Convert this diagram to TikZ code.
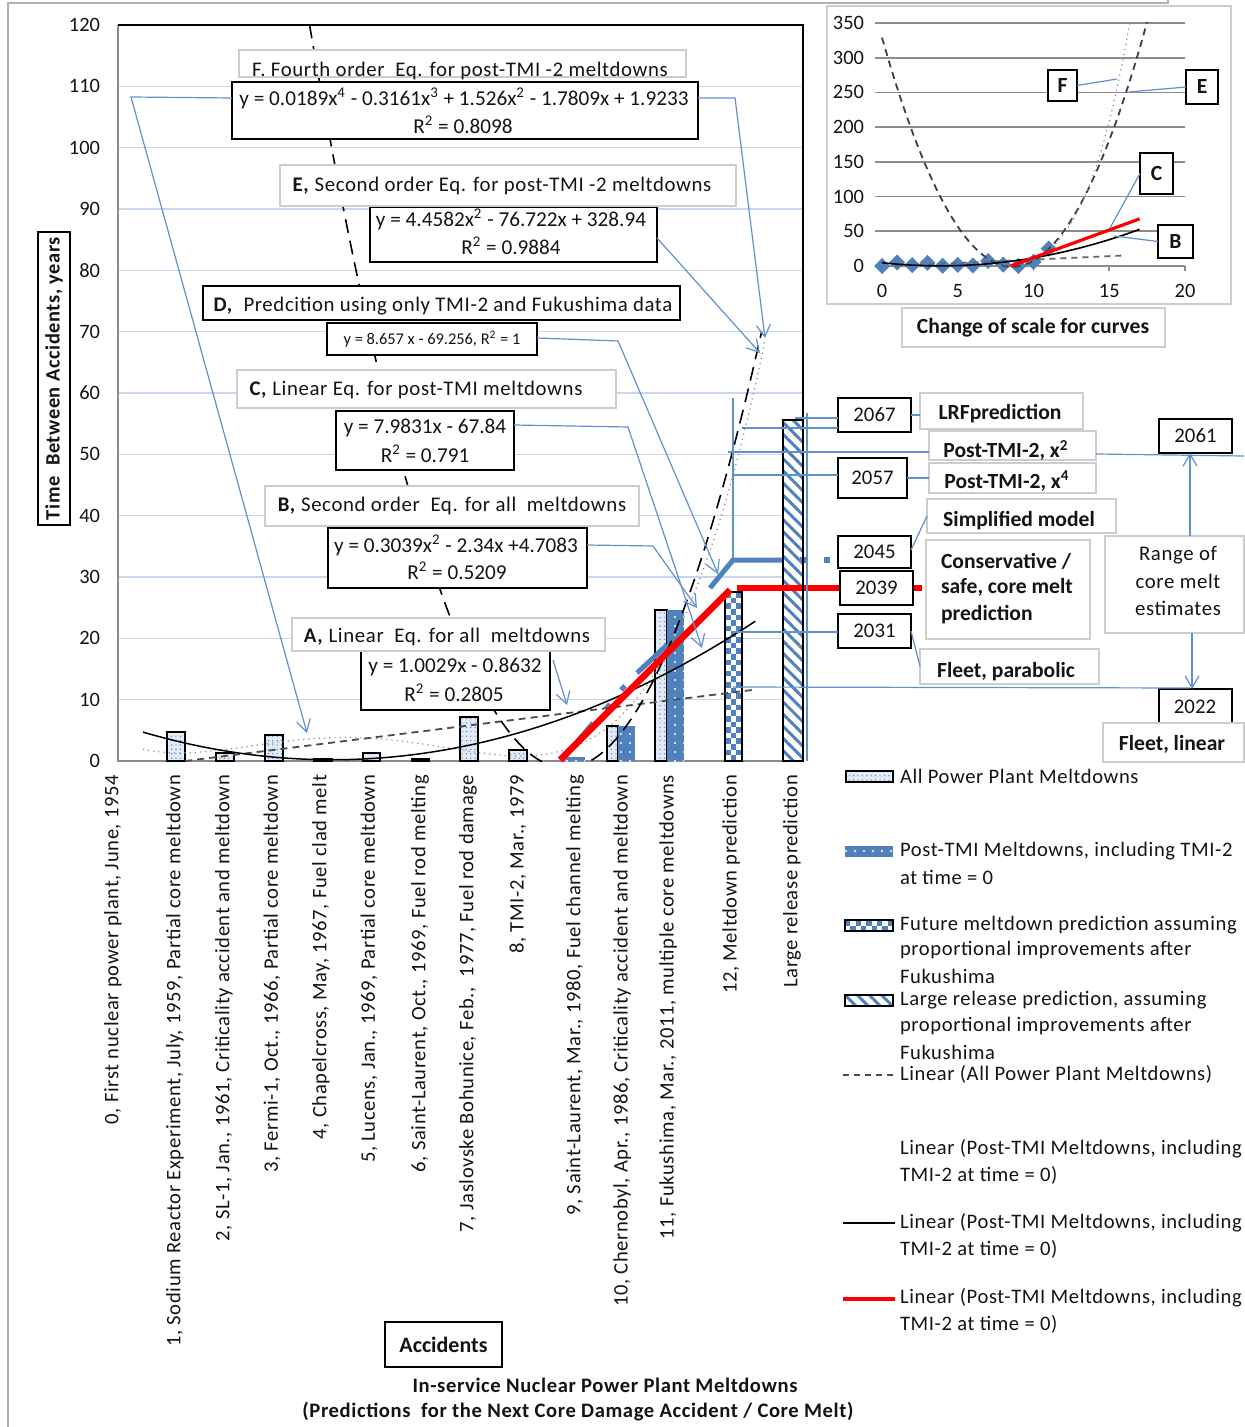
\documentclass[tikz,border=0pt]{standalone}
\usepackage{fontspec}
\setmainfont{Carlito}[LetterSpace=3]
\newfontfamily\plainC{Carlito}
\usetikzlibrary{arrows.meta,patterns,patterns.meta,fit,calc}
\definecolor{cblue}{RGB}{79,129,189}
\definecolor{lnblue}{RGB}{95,145,205}
\definecolor{gridc}{RGB}{198,214,236}
\definecolor{boxg}{RGB}{205,205,205}
\definecolor{txt}{RGB}{20,20,20}
\definecolor{barlight}{RGB}{225,234,246}
\definecolor{igrid}{RGB}{140,140,140}
\newcommand\fA{\fontsize{10.3}{12}\selectfont}
\newcommand\fT{\fontsize{10.2}{12}\selectfont\plainC}
\newcommand\fE{\fontsize{10.6}{12}\selectfont\plainC}
\newcommand\fL{\fontsize{10.4}{12}\selectfont}
\newcommand\fN{\fontsize{10.4}{12}\selectfont\plainC}
\newcommand\fB{\fontsize{10.8}{12}\selectfont\plainC\bfseries}
\newcommand\fD{\fontsize{8.2}{10}\selectfont\plainC}
\newcommand\sq[1]{\textsuperscript{#1}}
\begin{document}
\begin{tikzpicture}[x=0.5pt,y=-0.5pt,
  every node/.style={text=txt, inner sep=0pt, outer sep=0pt},
  gbox/.style={draw=boxg, fill=white, line width=0.8pt, inner sep=0pt},
  kbox/.style={draw=black, fill=white, line width=0.9pt, inner sep=0pt},
  conn/.style={draw=lnblue, line width=0.6pt},
  arr/.style={conn, -{Straight Barb[length=6pt,width=7pt]}},
  lightbar/.style={draw=black, line width=0.8pt, preaction={fill=barlight}, preaction={pattern={Dots[distance=2.2pt,radius=0.35pt]}, pattern color=cblue}},
  bluebar/.style={preaction={fill=cblue}, pattern={Dots[distance=4.5pt,radius=0.55pt]}, pattern color=white},
  hatchbar/.style={draw=black, line width=0.8pt, preaction={fill=white}, preaction={pattern={Lines[angle=-45,distance=4.3pt,line width=1.5pt]}, pattern color=cblue}},
  thickblue/.style={draw=cblue, line width=2.5pt},
  redline/.style={draw=red, line width=3.2pt},
]
\useasboundingbox (0,0) rectangle (1244,1427);
\fill[white] (0,0) rectangle (1244,1427);
\draw[black!30, line width=0.6pt] (8,1427) -- (8,3) -- (1168,3) -- (1168,0);

% ---------- main chart grid and axes
\foreach \v in {10,20,...,110} \draw[gridc, line width=0.6pt] (118,{761-6.1333*\v}) -- (803,{761-6.1333*\v});
\foreach \v in {0,10,...,120} \node[anchor=east, font=\fT] (yt\v) at (100,{761-6.1333*\v}) {\v};
\draw[black!45, line width=0.7pt] (118,25) -- (118,761) -- (803,761);

% ---------- bars
\foreach \a/\b/\t in {167/185/732,216/234/753,265/283/735,314/332/759,363/380/753,412/429/759,460/478/717,509/527/750,607/618/726,655/667/610}
  \draw[lightbar] (\a,\t) rectangle (\b,761);
\path[bluebar] (618,726) rectangle (635,761);
\path[bluebar] (667,610) rectangle (684,761);
\path[bluebar] (566,757) rectangle (585,761);
% checkered bar
\fill[white] (725,592) rectangle (742,761);
\foreach \r in {0,...,29} {\foreach \c in {0,1,2} {%
  \pgfmathtruncatemacro\m{mod(\r+\c,2)}%
  \ifnum\m=0 \fill[cblue] ({725+\c*5.667},{592+\r*5.633}) rectangle ++(5.667,5.633); \fi}}
\draw[black, line width=0.8pt] (725,592) rectangle (742,761);

% thick blue dash-dot line (simplified model)
\draw[thickblue] (562,760) -- (593,723);
\draw[thickblue] (606,709) -- (610,704);
\draw[thickblue] (621,690) -- (625,686);
\draw[thickblue] (637,673) -- (667,645);
\draw[thickblue] (710,588) -- (733,560) -- (783,560);

\draw[hatchbar] (783,420) rectangle (803,761);
\fill[cblue] (800,557) rectangle (806,563);
\fill[cblue] (824,557) rectangle (830,563);

% ---------- trend curves
\begin{scope}
\clip (118,25) rectangle (803,761);
\draw[black!45, line width=0.6pt, dotted] plot[domain=0:12.67, samples=80, variable=\t] ({143+49.1*\t},{761-6.1333*((((0.0189*\t-0.3161)*\t+1.526)*\t-1.7809)*\t+1.9233)});
\draw[black!70, line width=0.9pt, dash pattern=on 3.5pt off 2.5pt] plot[domain=0.86:12.47, samples=2, variable=\t] ({143+49.1*\t},{761-6.1333*(1.0029*\t-0.8632)});
\draw[black, line width=0.75pt] plot[domain=0:12.47, samples=60, variable=\t] ({143+49.1*\t},{761-6.1333*((0.3039*\t-2.34)*\t+4.7083)});
\draw[black, line width=0.8pt, dash pattern=on 7pt off 4pt] plot[domain=3.39:12.6, samples=90, variable=\t] ({143+49.1*\t},{761-6.1333*((4.4582*\t-76.722)*\t+328.94)});
\end{scope}

% red conservative line
\draw[redline] (560,760) -- (730,590);
\draw[redline] (737,588) -- (922,588);

\draw[black, line width=1.1pt] (118,25) -- (803,25) -- (803,761);

% ---------- annotation boxes in the chart
\node[gbox, fit={(239,50) (686,77)}] (Flab) {};
\node[anchor=base, font=\fL] (Flabt) at (460,77) {F. Fourth order\ \ Eq. for post-TMI -2 meltdowns};
\node[kbox, fit={(232,82) (698,139)}] (Feq) {};
\node[font=\fE] (Feq1) at (464,98) {y = 0.0189x\sq{4} - 0.3161x\sq{3} + 1.526x\sq{2} - 1.7809x + 1.9233};
\node[font=\fE] (Feq2) at (463,125) {R\sq{2} = 0.8098};

\node[kbox, fit={(370,207) (657,262)}] (Eeq) {};
\node[font=\fE] (Eeq1) at (511,219) {y = 4.4582x\sq{2} - 76.722x + 328.94};
\node[font=\fE] (Eeq2) at (511,246) {R\sq{2} = 0.9884};
\node[gbox, fit={(280,165) (736,206)}] (Elab) {};
\node[font=\fL] (Elabt) at (502,186) {\textbf{E,} Second order Eq. for post-TMI -2 meltdowns};

\node[kbox, fit={(203,286) (680,320)}] (Dlab) {};
\node[font=\fL] (Dlabt) at (443,306) {\textbf{D,}\ \ Predcition using only TMI-2 and Fukushima data};
\node[kbox, fit={(327,323) (537,355)}] (Deq) {};
\node[font=\fD] (Deqt) at (432,339) {y = 8.657 x - 69.256, R\sq{2} = 1};

\node[gbox, fit={(237,370) (616,408)}] (Clab) {};
\node[font=\fL] (Clabt) at (416,390) {\textbf{C,} Linear Eq. for post-TMI meltdowns};
\node[kbox, fit={(336,411) (514,470)}] (Ceq) {};
\node[font=\fE] (Ceq1) at (425,428) {y = 7.9831x - 67.84};
\node[font=\fE] (Ceq2) at (425,454) {R\sq{2} = 0.791};

\node[gbox, fit={(265,486) (639,526)}] (Blab) {};
\node[font=\fL] (Blabt) at (452,506) {\textbf{B,} Second order\ \ Eq. for all\ \ meltdowns};
\node[kbox, fit={(328,528) (587,588)}] (Beq) {};
\node[font=\fE] (Beq1) at (456,545) {y = 0.3039x\sq{2} - 2.34x +4.7083};
\node[font=\fE] (Beq2) at (457,571) {R\sq{2} = 0.5209};

\node[kbox, fit={(361,651) (550,710)}] (Aeq) {};
\node[font=\fE] (Aeq1) at (455,667) {y = 1.0029x - 0.8632};
\node[font=\fE] (Aeq2) at (454,693) {R\sq{2} = 0.2805};
\node[gbox, fit={(292,618) (605,651)}] (Alab) {};
\node[font=\fL] (Alabt) at (447,637) {\textbf{A,} Linear\ \ Eq. for all\ \ meltdowns};

% ---------- connectors in chart
\coordinate (tipF1) at (307,733);
\coordinate (tipF2) at (765,338);
\coordinate (tipE) at (760,353);
\coordinate (tipD) at (718,574);
\coordinate (tipC) at (702,648);
\coordinate (tipB) at (697,608);
\coordinate (tipA) at (567,705);
\draw[arr] (Feq.west |- 0,98) -- (131,97) -- (tipF1);
\draw[arr] (Feq.east |- 0,98) -- (735,98) -- (tipF2);
\draw[arr] (Eeq.east |- 0,238) -- (tipE);
\draw[arr] (Deq.east |- 0,338) -- (618,341) -- (tipD);
\draw[arr] (Ceq.east |- 0,425) -- (628,427) -- (tipC);
\draw[arr] (Beq.east |- 0,545) -- (653,546) -- (tipB);
\draw[arr] ($(Aeq.north east)+(3,9)$) -- (tipA);
\draw[conn] (733,398) -- (733,558);
\draw[conn] (807,413) -- (807,761);

% ---------- y-axis title
\node[kbox, fit={(38,232) (70,525)}] (ytitle) {};
\node[rotate=90, font=\fontsize{10.2}{12}\selectfont\bfseries] (ytitlet) at (ytitle.center) {Time\ \ Between Accidents, years};

% ---------- category labels
\foreach \xx/\lab [count=\i] in {
 113/{0, First nuclear power plant, June, 1954},
 175/{1, Sodium Reactor Experiment, July, 1959, Partial core meltdown},
 224/{2, SL-1, Jan., 1961, Criticality accident and meltdown},
 272/{3, Fermi-1, Oct., 1966, Partial core meltdown},
 321/{4, Chapelcross, May, 1967, Fuel clad melt},
 369/{5, Lucens, Jan., 1969, Partial core meltdown},
 420/{6, Saint-Laurent, Oct., 1969, Fuel rod melting},
 468/{7, Jaslovske Bohunice, Feb., \ 1977, Fuel rod damage},
 518/{8, TMI-2, Mar., 1979},
 575/{9, Saint-Laurent, Mar., 1980, Fuel channel melting},
 622/{10, Chernobyl, Apr., 1986, Criticality accident and meltdown},
 668/{11, Fukushima, Mar., 2011, multiple core meltdowns},
 731/{12, Meltdown prediction},
 792/{Large release prediction}}
 \node[rotate=90, anchor=east, font=\fA] (cat\i) at (\xx,775) {\lab};

% ---------- right-hand boxes
\node[kbox, fit={(838,398) (911,432)}] (n2067) {};
\node[font=\fN] (n2067t) at (n2067.center) {2067};
\node[gbox, fit={(920,393) (1083,429)}] (lrf) {};
\node[anchor=base, font=\fB] (lrft) at (1000,420) {LRFprediction};
\node[gbox, fit={(929,431) (1096,460)}] (px2) {};
\node[anchor=base, font=\fB] (px2t) at (1006,458) {Post-TMI-2, x\sq{2}};
\node[kbox, fit={(838,458) (907,498)}] (n2057) {};
\node[font=\fN] (n2057t) at (n2057.center) {2057};
\node[gbox, fit={(929,463) (1096,493)}] (px4) {};
\node[anchor=base, font=\fB] (px4t) at (1007,488) {Post-TMI-2, x\sq{4}};
\node[gbox, fit={(927,499) (1116,533)}] (simp) {};
\node[anchor=base, font=\fB] (simpt) at (1019,526) {Simplified model};
\node[kbox, fit={(838,536) (911,568)}] (n2045) {};
\node[font=\fN] (n2045t) at (n2045.center) {2045};
\node[kbox, fit={(840,571) (913,605)}] (n2039) {};
\node[font=\fN] (n2039t) at (n2039.center) {2039};
\node[gbox, fit={(926,540) (1090,639)}] (cons) {};
\node[anchor=base west, font=\fB] (cons1) at (941,568) {Conservative /};
\node[anchor=base west, font=\fB] (cons2) at (941,593) {safe, core melt};
\node[anchor=base west, font=\fB] (cons3) at (941,620) {prediction};
\node[kbox, fit={(838,614) (911,648)}] (n2031) {};
\node[font=\fN] (n2031t) at (n2031.center) {2031};
\node[gbox, fit={(920,649) (1099,684)}] (fpar) {};
\node[anchor=base, font=\fB] (fpart) at (1006,677) {Fleet, parabolic};
\node[gbox, fit={(1105,536) (1244,633)}] (range) {};
\node[font=\fL] (r1) at (1178,555) {Range of};
\node[font=\fL] (r2) at (1178,581) {core melt};
\node[font=\fL] (r3) at (1178,608) {estimates};
\node[kbox, fit={(1159,419) (1232,453)}] (n2061) {};
\node[font=\fN] (n2061t) at (n2061.center) {2061};
\node[kbox, fit={(1159,689) (1232,724)}] (n2022) {};
\node[font=\fN] (n2022t) at (1195,707) {2022};
\node[gbox, fit={(1103,723) (1244,762)}] (flin) {};
\node[anchor=base, font=\fB] (flint) at (1172,750) {Fleet, linear};

\draw[conn] (795,418) -- (n2067.west |- 0,418);
\draw[conn] (742,428) -- (n2067.west |- 0,428);
\draw[conn] (n2067.east) -- (lrf.west |- n2067.east);
\draw[conn] (728,452) -- (px2.west |- 0,452);
\draw[conn] (px2.east |- 0,454) -- (1244,456);
\draw[conn] (733,475) -- (n2057.west |- 0,475);
\draw[conn] (n2057.east) -- (px4.west |- n2057.east);
\draw[conn] (n2045.east |- 0,550) -- (simp.west);
\draw[conn] (733,632) -- (n2031.west |- 0,632);
\draw[conn] (n2031.east) -- (fpar.west);
\draw[conn] (733,687) -- (1190,688);
\draw[arr] (range.north -| 1190,0) -- (n2061.south -| 1190,0);
\draw[arr] (range.south -| 1192,0) -- (n2022.north -| 1192,0);

% ---------- inset chart
\draw[boxg, line width=0.9pt, fill=white] (827,6) rectangle (1231,304);
\foreach \w in {50,100,...,350} \draw[igrid, line width=0.9pt] (875,{266-0.6943*\w}) -- (1185,{266-0.6943*\w});
\draw[igrid, line width=0.9pt] (875,266) -- (1185,266);
\foreach \v in {0,5,...,20} \draw[igrid, line width=0.9pt] ({882+15.15*\v},266) -- ({882+15.15*\v},271);
\foreach \w in {0,50,...,350} \node[anchor=east, font=\fT] (iy\w) at (864,{266-0.6943*\w}) {\w};
\foreach \v in {0,5,...,20} \node[font=\fT] (ix\v) at ({882+15.15*\v},291) {\v};
\foreach \v/\w in {0/0,1/5,2/1.3,3/4.5,4/0.5,5/1.5,6/0.7,7/7.2,8/2,9/0,10/6,11/25}
  \fill[cblue] ({882+15.15*\v},{266-0.6943*\w-8}) -- ++(8,8) -- ++(-8,8) -- ++(-8,-8) -- cycle;
\begin{scope}
\clip (870,23) rectangle (1195,275);
\draw[black!75, line width=0.9pt, dash pattern=on 3.5pt off 2.5pt] plot[domain=0:17.6, samples=90, variable=\t] ({882+15.15*\t},{266-0.6943*((4.4582*\t-76.722)*\t+328.94)});
\draw[black!45, line width=0.6pt, dotted] plot[domain=6:16.4, samples=60, variable=\t] ({882+15.15*\t},{266-0.6943*((((0.0189*\t-0.3161)*\t+1.526)*\t-1.7809)*\t+1.9233)});
\draw[black!60, line width=0.9pt, dash pattern=on 3pt off 2.5pt] plot[domain=0.9:16, samples=2, variable=\t] ({882+15.15*\t},{266-0.6943*(1.0029*\t-0.8632)});
\draw[black, line width=0.8pt] plot[domain=0:17, samples=40, variable=\t] ({882+15.15*\t},{266-0.6943*((0.3039*\t-2.34)*\t+4.7083)});
\draw[red, line width=1.6pt] plot[domain=8.5:17, samples=2, variable=\t] ({882+15.15*\t},{266-0.6943*(7.9831*\t-67.84)});
\end{scope}
\node[kbox, fit={(1048,70) (1077,101)}] (iF) {};
\node[font=\fB] (iFt) at (iF.center) {F};
\node[kbox, fit={(1186,70) (1218,104)}] (iE) {};
\node[font=\fB] (iEt) at (iE.center) {E};
\node[kbox, fit={(1140,153) (1173,194)}] (iC) {};
\node[font=\fB] (iCt) at (iC.center) {C};
\node[kbox, fit={(1158,225) (1193,258)}] (iB) {};
\node[font=\fB] (iBt) at (iB.center) {B};
\coordinate (ciF) at (1117,79);
\coordinate (ciE) at (1129,92);
\coordinate (ciC) at (1110,228);
\coordinate (ciB) at (1114,236);
\draw[conn] (iF.east) -- (ciF);
\draw[conn] (iE.west) -- (ciE);
\draw[conn] (iC.west) -- (ciC);
\draw[conn] (iB.west) -- (ciB);
\node[gbox, fit={(902,308) (1165,347)}] (scalebox) {};
\node[font=\fB] (scalet) at (1033,328) {Change of scale for curves};

% ---------- legend
\draw[lightbar] (846,771) rectangle (893,782);
\path[bluebar] (845,846) rectangle (893,857);
\fill[white] (845,920) rectangle (893,931);
\foreach \r in {0,1} {\foreach \c in {0,...,8} {%
  \pgfmathtruncatemacro\m{mod(\r+\c,2)}%
  \ifnum\m=0 \fill[cblue] ({845+\c*5.333},{920+\r*5.5}) rectangle ++(5.333,5.5); \fi}}
\draw[black, line width=0.8pt] (845,920) rectangle (893,931);
\draw[hatchbar] (845,995) rectangle (893,1006);
\draw[black!70, line width=0.8pt, dash pattern=on 3pt off 2.5pt] (843,1075) -- (893,1075);
\draw[black, line width=0.8pt] (843,1223) -- (895,1223);
\draw[red, line width=2pt] (843,1299) -- (895,1299);
\foreach \yy/\lab in {
 776/{All Power Plant Meltdowns},
 851/{Post-TMI Meltdowns, including TMI-2},
 877/{at time = 0},
 925/{Future meltdown prediction assuming},
 950/{proportional improvements after},
 976/{Fukushima},
 1000/{Large release prediction, assuming},
 1026/{proportional improvements after},
 1052/{Fukushima},
 1074/{Linear (All Power Plant Meltdowns)},
 1149/{Linear (Post-TMI Meltdowns, including},
 1175/{TMI-2 at time = 0)},
 1223/{Linear (Post-TMI Meltdowns, including},
 1249/{TMI-2 at time = 0)},
 1298/{Linear (Post-TMI Meltdowns, including},
 1324/{TMI-2 at time = 0)}}
 \node[anchor=west, font=\fA] (lg\yy) at (900,\yy) {\lab};

% ---------- bottom titles
\node[kbox, fit={(385,1322) (502,1367)}] (acc) {};
\node[font=\fontsize{11}{13}\selectfont\plainC\bfseries] (acct) at (acc.center) {Accidents};
\node[font=\fontsize{10.3}{12}\selectfont\bfseries] (title1) at (605,1385) {In-service Nuclear Power Plant Meltdowns};
\node[font=\fontsize{10.3}{12}\selectfont\bfseries] (title2) at (578,1412) {(Predictions\ \ for the Next Core Damage Accident / Core Melt)};
\end{tikzpicture}
\end{document}
